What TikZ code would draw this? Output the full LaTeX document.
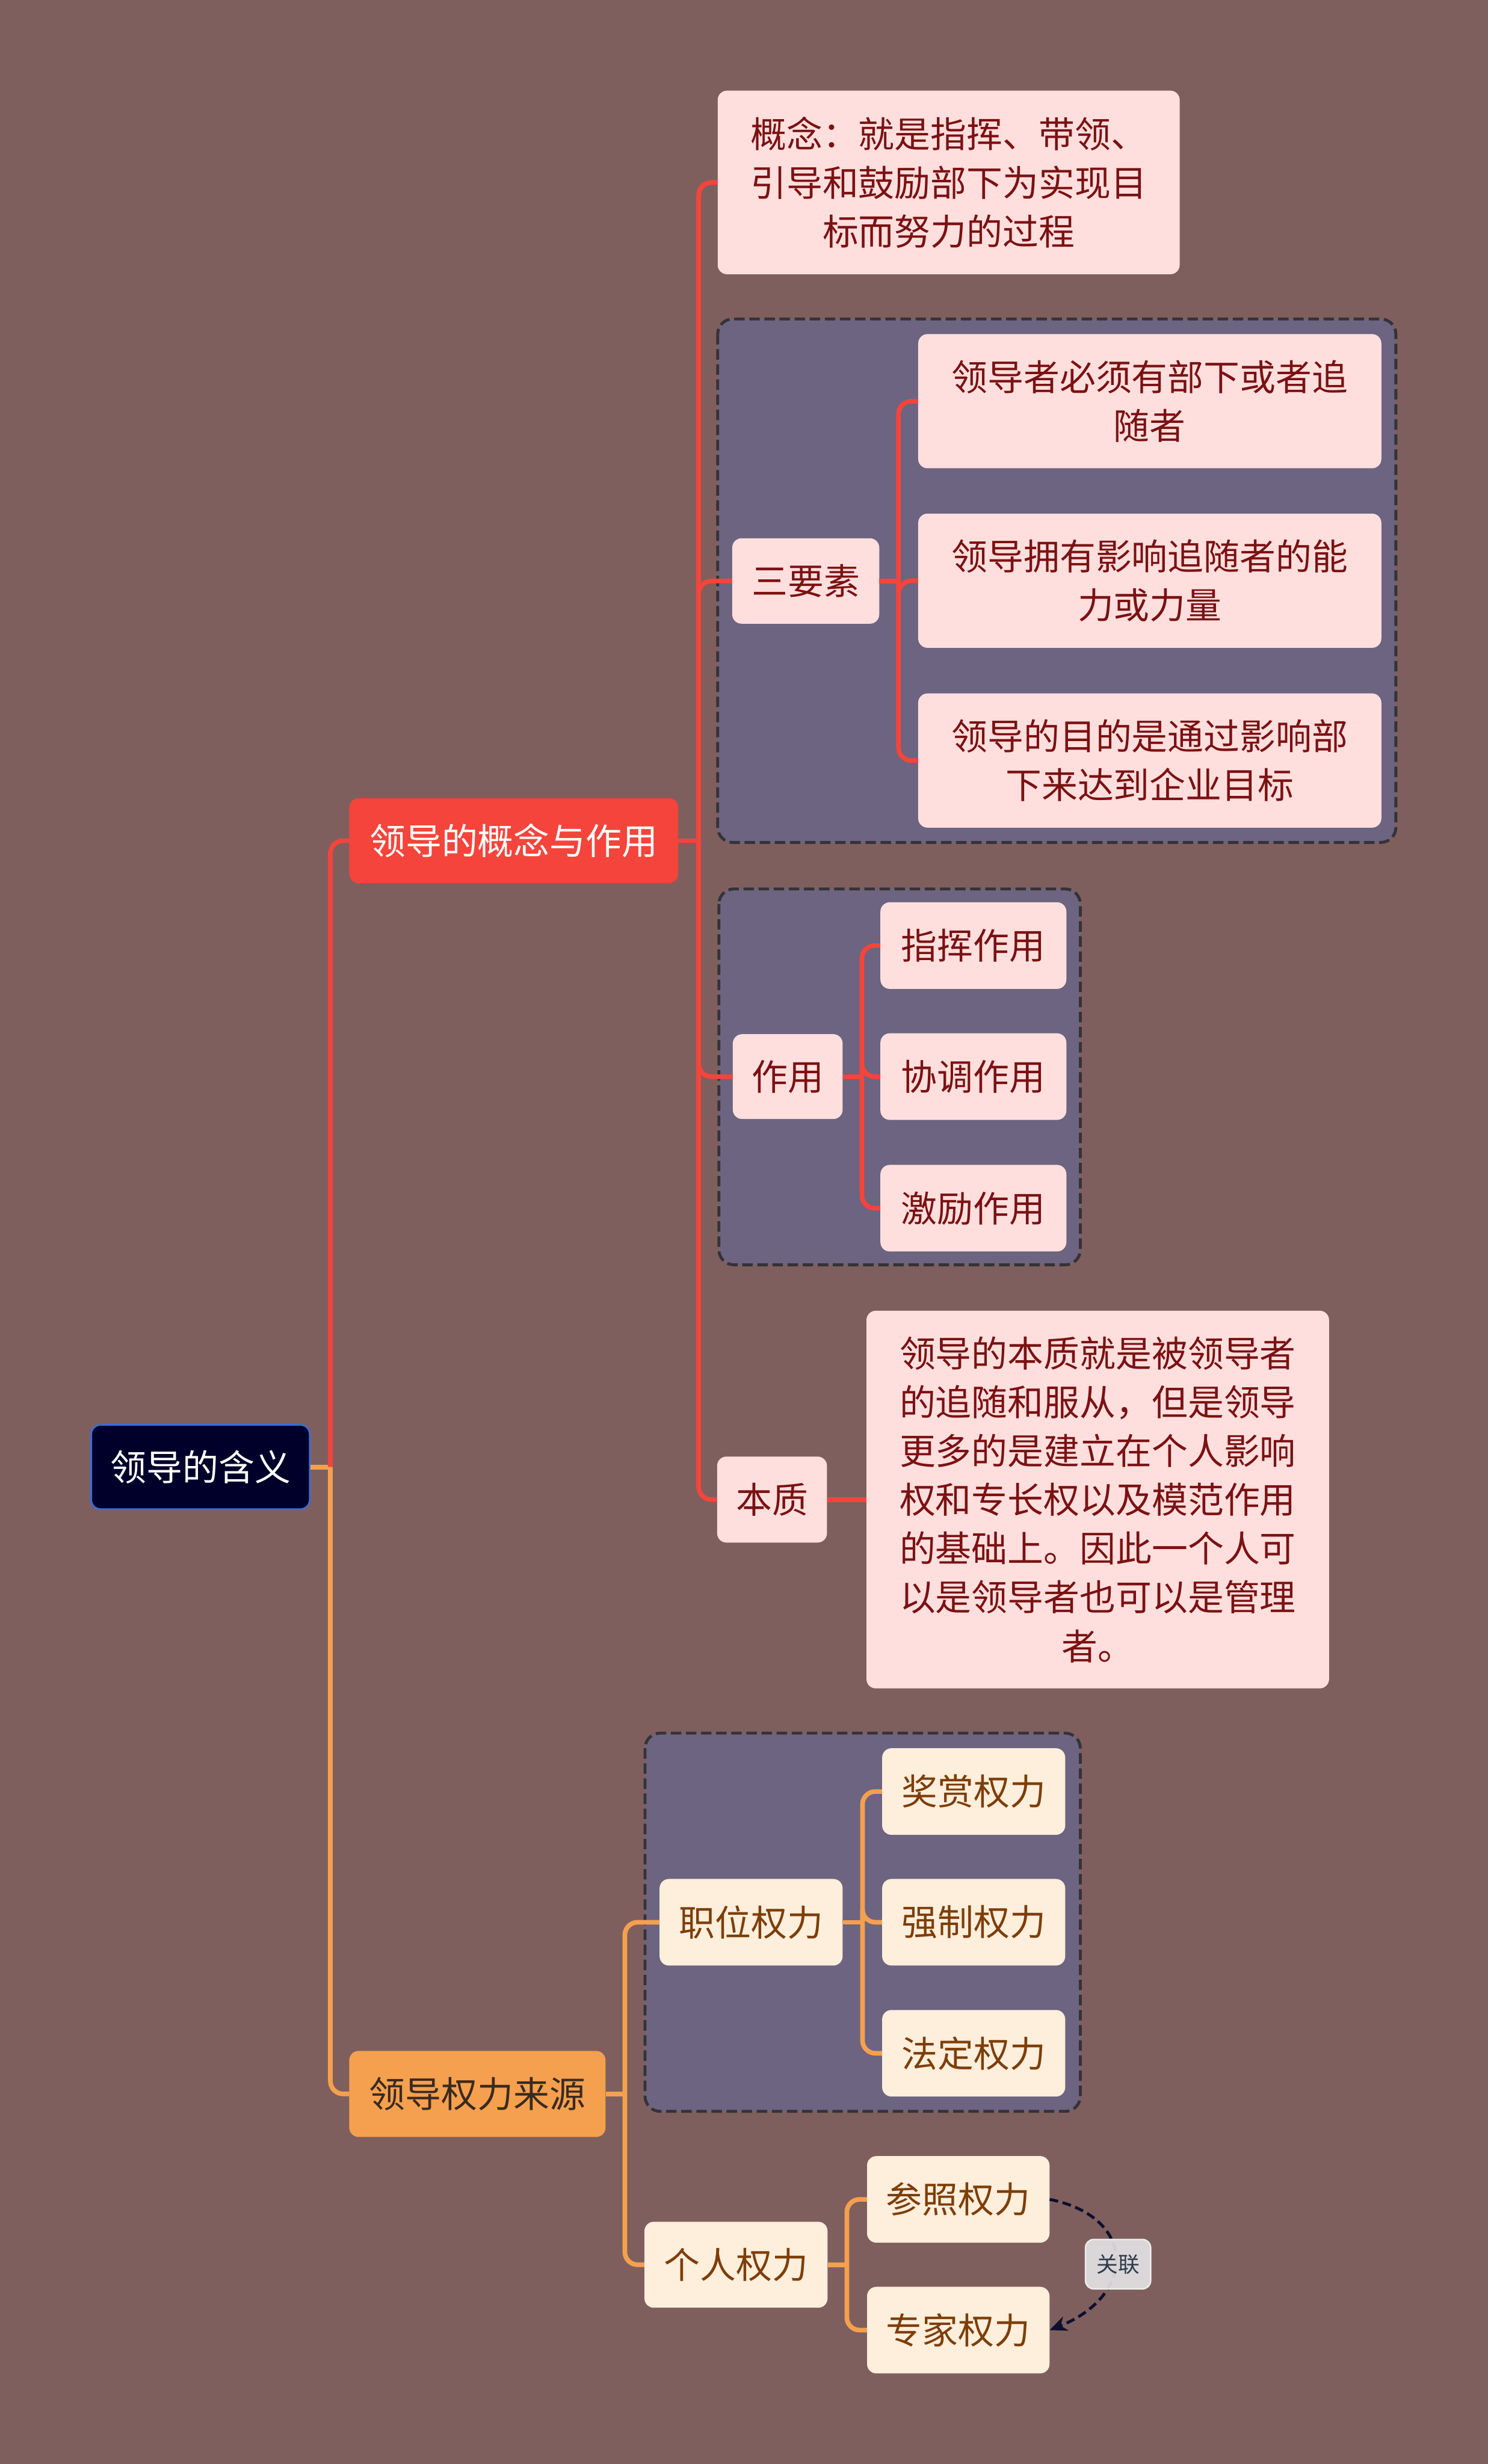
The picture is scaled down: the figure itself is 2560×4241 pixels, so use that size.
\documentclass[tikz,border=0pt]{standalone}
\usepackage{fontspec}
\setmainfont{Noto Sans CJK SC}
\usetikzlibrary{calc,arrows.meta}
\definecolor{bgc}{HTML}{7F5F5D}
\definecolor{grpc}{HTML}{6C6480}
\definecolor{grpline}{HTML}{353238}
\definecolor{redc}{HTML}{F5443B}
\definecolor{orc}{HTML}{F5A04E}
\definecolor{pinkc}{HTML}{FFDFDD}
\definecolor{pinktxt}{HTML}{7B1113}
\definecolor{creamc}{HTML}{FEEEDC}
\definecolor{creamtxt}{HTML}{7D3E08}
\definecolor{ortxt}{HTML}{3A2A20}
\definecolor{rootc}{HTML}{00002A}
\definecolor{rootline}{HTML}{3B6CD9}
\definecolor{relc}{HTML}{0E0F30}
\definecolor{labc}{HTML}{E6E4E6}
\definecolor{labtxt}{HTML}{2F3B4C}
\tikzset{
  box/.style={rounded corners=16pt, inner sep=0pt, align=center, font=\fontsize{62}{84}\selectfont},
  pinkbox/.style={box, fill=pinkc, text=pinktxt},
  creambox/.style={box, fill=creamc, text=creamtxt},
  grp/.style={draw=grpline, dash pattern=on 18pt off 8pt, line width=5pt, fill=grpc, rounded corners=26pt},
  redln/.style={draw=redc, line width=8pt},
  orln/.style={draw=orc, line width=8pt},
  elbow/.style={rounded corners=22pt},
}
\begin{document}
\begin{tikzpicture}[x=1pt,y=-1pt]
\fill[bgc] (0,0) rectangle (2560,4241);
\useasboundingbox (0,0) rectangle (2560,4241);

% groups
\draw[grp] (1235,549) rectangle (2402,1450);
\draw[grp] (1237,1530) rectangle (1859,2177);
\draw[grp] (1110,2983) rectangle (1859,3634);

% nodes
\node[box, fill=rootc, draw=rootline, line width=3pt, text=white, minimum width=376pt, minimum height=145pt] (root) at (345,2525) {领导的含义};
\node[box, fill=redc, text=white, minimum width=566pt, minimum height=146pt] (la) at (884,1447) {领导的概念与作用};
\node[box, fill=orc, text=ortxt, minimum width=441pt, minimum height=148pt] (lb) at (821.5,3604) {领导权力来源};

\node[pinkbox, minimum width=795pt, minimum height=316pt] (gn) at (1632.5,314) {概念：就是指挥、带领、\\引导和鼓励部下为实现目\\标而努力的过程};
\node[pinkbox, minimum width=253pt, minimum height=147pt] (sy) at (1386.5,1000) {三要素};
\node[pinkbox, minimum width=797pt, minimum height=231pt] (e1) at (1978.5,690.5) {领导者必须有部下或者追\\随者};
\node[pinkbox, minimum width=797pt, minimum height=231pt] (e2) at (1978.5,999.5) {领导拥有影响追随者的能\\力或力量};
\node[pinkbox, minimum width=797pt, minimum height=231pt] (e3) at (1978.5,1309) {领导的目的是通过影响部\\下来达到企业目标};

\node[pinkbox, minimum width=189pt, minimum height=146pt] (zy) at (1355.5,1853) {作用};
\node[pinkbox, minimum width=320pt, minimum height=149pt] (z1) at (1675,1627.5) {指挥作用};
\node[pinkbox, minimum width=320pt, minimum height=149pt] (z2) at (1675,1853) {协调作用};
\node[pinkbox, minimum width=320pt, minimum height=149pt] (z3) at (1675,2079.5) {激励作用};

\node[pinkbox, minimum width=189pt, minimum height=148pt] (bz) at (1328.5,2581) {本质};
\node[pinkbox, minimum width=796pt, minimum height=650pt] (bzt) at (1889,2581) {领导的本质就是被领导者\\的追随和服从，但是领导\\更多的是建立在个人影响\\权和专长权以及模范作用\\的基础上。因此一个人可\\以是领导者也可以是管理\\者。};

\node[creambox, minimum width=315pt, minimum height=149pt] (zw) at (1292.5,3308.5) {职位权力};
\node[creambox, minimum width=315pt, minimum height=149pt] (w1) at (1675.5,3083.5) {奖赏权力};
\node[creambox, minimum width=315pt, minimum height=149pt] (w2) at (1675.5,3308.5) {强制权力};
\node[creambox, minimum width=315pt, minimum height=149pt] (w3) at (1675.5,3534) {法定权力};

\node[creambox, minimum width=315pt, minimum height=148pt] (gr) at (1266.5,3898) {个人权力};
\node[creambox, minimum width=314pt, minimum height=149pt] (cz) at (1649,3785.5) {参照权力};
\node[creambox, minimum width=314pt, minimum height=149pt] (zj) at (1649,4010.5) {专家权力};

% junctions
\coordinate (jr) at ($(root.east)+(34,0)$);
\coordinate (ja) at ($(la.east)+(35,0)$);
\coordinate (js) at ($(sy.east)+(33,0)$);
\coordinate (jz) at ($(zy.east)+(33,0)$);
\coordinate (jb) at ($(lb.east)+(33,0)$);
\coordinate (jw) at ($(zw.east)+(34,0)$);
\coordinate (jg) at ($(gr.east)+(33,0)$);

% connectors
\draw[orln] (root.east) -- (jr);
\draw[redln, elbow] (jr) |- (la.west);
\draw[orln, elbow] (jr) |- (lb.west);

\draw[redln] (la.east) -- (ja);
\draw[redln, elbow] (ja) |- (gn.west);
\draw[redln, elbow] (ja) |- (sy.west);
\draw[redln, elbow] (ja) |- (zy.west);
\draw[redln, elbow] (ja) |- (bz.west);

\draw[redln] (sy.east) -- (js);
\draw[redln, elbow] (js) |- (e1.west);
\draw[redln, elbow] (js) |- (e2.west);
\draw[redln, elbow] (js) |- (e3.west);

\draw[redln] (zy.east) -- (jz);
\draw[redln, elbow] (jz) |- (z1.west);
\draw[redln, elbow] (jz) |- (z2.west);
\draw[redln, elbow] (jz) |- (z3.west);

\draw[redln] (bz.east) -- (bzt.west);

\draw[orln] (lb.east) -- (jb);
\draw[orln, elbow] (jb) |- (zw.west);
\draw[orln, elbow] (jb) |- (gr.west);

\draw[orln] (zw.east) -- (jw);
\draw[orln, elbow] (jw) |- (w1.west);
\draw[orln, elbow] (jw) |- (w2.west);
\draw[orln, elbow] (jw) |- (w3.west);

\draw[orln] (gr.east) -- (jg);
\draw[orln, elbow] (jg) |- (cz.west);
\draw[orln, elbow] (jg) |- (zj.west);

% relation
\draw[relc, line width=5pt, dash pattern=on 15pt off 8pt, -{Stealth[length=30pt,width=26pt]}]
  (cz.east) .. controls +(150,30) and +(150,-60) .. (zj.east);
\node[draw=white!85!gray, line width=2.5pt, fill=labc, fill opacity=0.9, text opacity=1, text=labtxt, rounded corners=14pt, inner sep=0pt, minimum width=112pt, minimum height=85pt, font=\fontsize{37}{44}\selectfont] (gl) at (1924,3897) {关联};
\end{tikzpicture}
\end{document}
